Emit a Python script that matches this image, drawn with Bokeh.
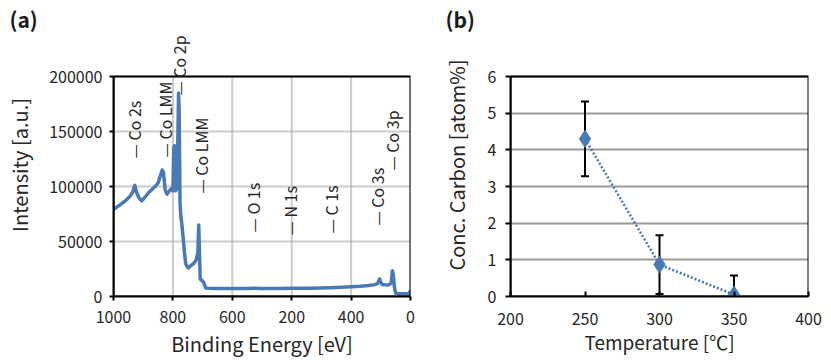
import math
from bokeh.plotting import figure
from bokeh.models import (Range1d, FixedTicker, LabelSet, ColumnDataSource,
                          Whisker, TeeHead, BasicTickFormatter)
from bokeh.layouts import row
from bokeh.embed import file_html
from bokeh.resources import INLINE
from bokeh.core.properties import value

FONT = "Noto Sans CJK JP"
TXT = "#262626"
BLUE = "#4a7ab6"
GRID = "#9a9a9a"

# ---------------- data (a): XPS survey spectrum ----------------
be = [1000, 990, 975, 960, 945, 935, 928, 924, 915, 905, 895, 880, 868, 860, 850,
      842, 836, 832, 826, 820, 812, 805, 800, 797, 795, 793, 790, 786, 783, 781,
      779, 776, 773, 770, 766, 761, 757, 752, 748, 740, 730, 722, 716, 713, 711,
      708, 700, 695, 690, 680, 650, 600, 550, 531, 500, 450, 400, 350, 300, 250,
      200, 170, 140, 120, 110, 104, 100, 95, 85, 75, 65, 61, 58, 54, 50, 40, 20,
      8, 3, 0]
intensity = [79000, 81000, 84000, 87000, 91000, 95000, 101000, 96000, 90000, 87000,
             90000, 95000, 98000, 100000, 103000, 110000, 115000, 113000, 97000,
             93000, 96000, 98000, 96000, 135000, 137000, 100000, 96000, 100000,
             150000, 185000, 170000, 85000, 72000, 66000, 55000, 40000, 30000,
             27000, 26000, 28000, 30000, 33000, 40000, 65000, 45000, 16000, 14000,
             12000, 7800, 7500, 7300, 7200, 7300, 7600, 7200, 7200, 7400, 7500,
             7800, 8200, 8800, 9300, 10000, 10800, 12000, 16000, 13000, 11000,
             10700, 10500, 12000, 23500, 20000, 8000, 3000, 2600, 2400, 2400,
             3500, 5500]

peak_names = ["— Co 2s", "— Co LMM", "— Co 2p", "— Co LMM", "— O 1s", "— N 1s",
              "— C 1s", "— Co 3s", "— Co 3p"]
peak_be = [932, 827, 780, 704, 529, 404, 269, 112, 62]
peak_y = [125500, 126400, 182700, 93600, 58200, 55500, 57300, 64500, 114500]

be_ticks = [1000, 800, 600, 400, 200, 0]
be_tick_labels = ["1000", "800", "600", "200", "400", "0"]
int_ticks = [0, 50000, 100000, 150000, 200000]

# ---------------- data (b): carbon concentration ----------------
temps = [250, 300, 350]
carbon = [4.3, 0.87, 0.05]
carbon_err = [1.02, 0.8, 0.52]
temp_ticks = [200, 250, 300, 350, 400]
conc_ticks = [0, 1, 2, 3, 4, 5, 6]

# layout (pixels): frame top, plot-box top, plot-box bottom
F_TOP, BOX_TOP, BOX_BOTTOM = 33, 76, 296
EXT = (BOX_BOTTOM - F_TOP) / (BOX_BOTTOM - BOX_TOP)


def style(p):
    p.background_fill_color = "white"
    p.border_fill_color = "white"
    p.outline_line_color = None
    for ax in (p.xaxis[0], p.yaxis[0]):
        ax.axis_line_color = "black"
        ax.axis_line_width = 2
        ax.major_tick_line_color = "black"
        ax.major_tick_line_width = 2
        ax.minor_tick_line_color = None
        ax.major_label_text_font = FONT
        ax.major_label_text_font_size = "16px"
        ax.major_label_text_color = TXT
        ax.axis_label_text_font = FONT
        ax.axis_label_text_font_size = "20px"
        ax.axis_label_text_font_style = "normal"
        ax.axis_label_text_color = TXT
    p.title.text_font = FONT
    p.title.text_font_size = "21px"
    p.title.text_font_style = "bold"
    p.title.text_color = "#1a1a1a"
    p.title.align = "left"
    p.title.standoff = 0


# ---------------- panel (a) ----------------
pa = figure(width=420, height=360, x_range=Range1d(be_ticks[0], be_ticks[-1]),
            y_range=Range1d(0, int_ticks[-1] * EXT), title="(a)",
            output_backend="svg", toolbar_location=None,
            min_border_left=113, min_border_right=10, min_border_top=F_TOP,
            min_border_bottom=360 - BOX_BOTTOM)
style(pa)
pa.title.offset = -104
pa.xaxis.ticker = FixedTicker(ticks=be_ticks)
pa.xaxis.major_label_overrides = {t: l for t, l in zip(be_ticks, be_tick_labels)}
pa.yaxis.ticker = FixedTicker(ticks=int_ticks)
pa.yaxis.formatter = BasicTickFormatter(use_scientific=False)
pa.yaxis.bounds = (int_ticks[0], int_ticks[-1])
pa.xaxis.axis_label = "Binding Energy [eV]"
pa.yaxis.axis_label = "Intensity [a.u.]"
pa.xaxis.major_tick_in = 0
pa.xaxis.major_tick_out = 4
pa.yaxis.major_tick_in = 0
pa.yaxis.major_tick_out = 4
pa.xaxis.major_label_standoff = 10
pa.yaxis.major_label_standoff = 7
pa.xaxis.axis_label_standoff = 3
pa.yaxis.axis_label_standoff = 12
pa.xgrid.grid_line_color = None
pa.ygrid.grid_line_color = GRID
pa.ygrid.grid_line_width = 2
pa.ygrid.grid_line_dash = "1 1"
pa.ygrid.ticker = FixedTicker(ticks=int_ticks)
# vertical grid lines limited to the plot box
pa.segment(x0=be_ticks, y0=[int_ticks[0]] * len(be_ticks), x1=be_ticks,
           y1=[int_ticks[-1]] * len(be_ticks), line_color=GRID, line_width=2,
           line_dash="1 1")

pa.line(be, intensity, line_color=BLUE, line_width=3.5, line_join="round")

# plot box
pa.quad(left=[be_ticks[0]], right=[be_ticks[-1]], bottom=[int_ticks[0]],
        top=[int_ticks[-1]], fill_color=None, line_color="black", line_width=2)

psrc = ColumnDataSource(dict(x=peak_be, y=peak_y, t=peak_names))
pa.add_layout(LabelSet(x="x", y="y", text="t", source=psrc, angle=math.pi / 2,
                       text_align="left", text_baseline="middle",
                       text_font=value(FONT), text_font_size="16px", text_color=TXT))

# ---------------- panel (b) ----------------
pb = figure(width=411, height=360, x_range=Range1d(temp_ticks[0], temp_ticks[-1]),
            y_range=Range1d(conc_ticks[0], conc_ticks[-1] * EXT), title="(b)",
            output_backend="svg", toolbar_location=None,
            min_border_left=90, min_border_right=23, min_border_top=F_TOP,
            min_border_bottom=360 - BOX_BOTTOM)
style(pb)
pb.title.offset = -65
pb.xaxis.ticker = FixedTicker(ticks=temp_ticks)
pb.yaxis.ticker = FixedTicker(ticks=conc_ticks)
pb.yaxis.bounds = (conc_ticks[0], conc_ticks[-1])
pb.xaxis.axis_label = "Temperature [℃]"
pb.yaxis.axis_label = "Conc. Carbon [atom%]"
pb.xaxis.axis_label_text_font_size = "19px"
pb.xaxis.major_tick_in = 5
pb.xaxis.major_tick_out = 0
pb.yaxis.major_tick_in = 0
pb.yaxis.major_tick_out = 5
pb.xaxis.major_label_standoff = 16
pb.yaxis.major_label_standoff = 9
pb.xaxis.axis_label_standoff = 0
pb.yaxis.axis_label_standoff = 14
pb.xgrid.grid_line_color = None
pb.ygrid.grid_line_color = GRID
pb.ygrid.grid_line_width = 2
pb.ygrid.ticker = FixedTicker(ticks=conc_ticks)

pb.quad(left=[temp_ticks[0]], right=[temp_ticks[-1]], bottom=[conc_ticks[0]],
        top=[conc_ticks[-1]], fill_color=None, line_color="black", line_width=2)

upper = [c + e for c, e in zip(carbon, carbon_err)]
lower = [max(c - e, 0) for c, e in zip(carbon, carbon_err)]
esrc = ColumnDataSource(dict(x=temps, y=carbon, upper=upper, lower=lower))
pb.add_layout(Whisker(source=esrc, base="x", upper="upper", lower="lower",
                      line_color="black", line_width=2,
                      upper_head=TeeHead(size=8, line_color="black", line_width=2),
                      lower_head=TeeHead(size=8, line_color="black", line_width=2)))
pb.line("x", "y", source=esrc, line_color=BLUE, line_width=2.5, line_dash="2 2")
pb.scatter("x", "y", source=esrc, marker="diamond", size=17, fill_color=BLUE,
           line_color=BLUE)

layout = row(pa, pb)
open("out.html", "w").write(file_html(layout, INLINE))
